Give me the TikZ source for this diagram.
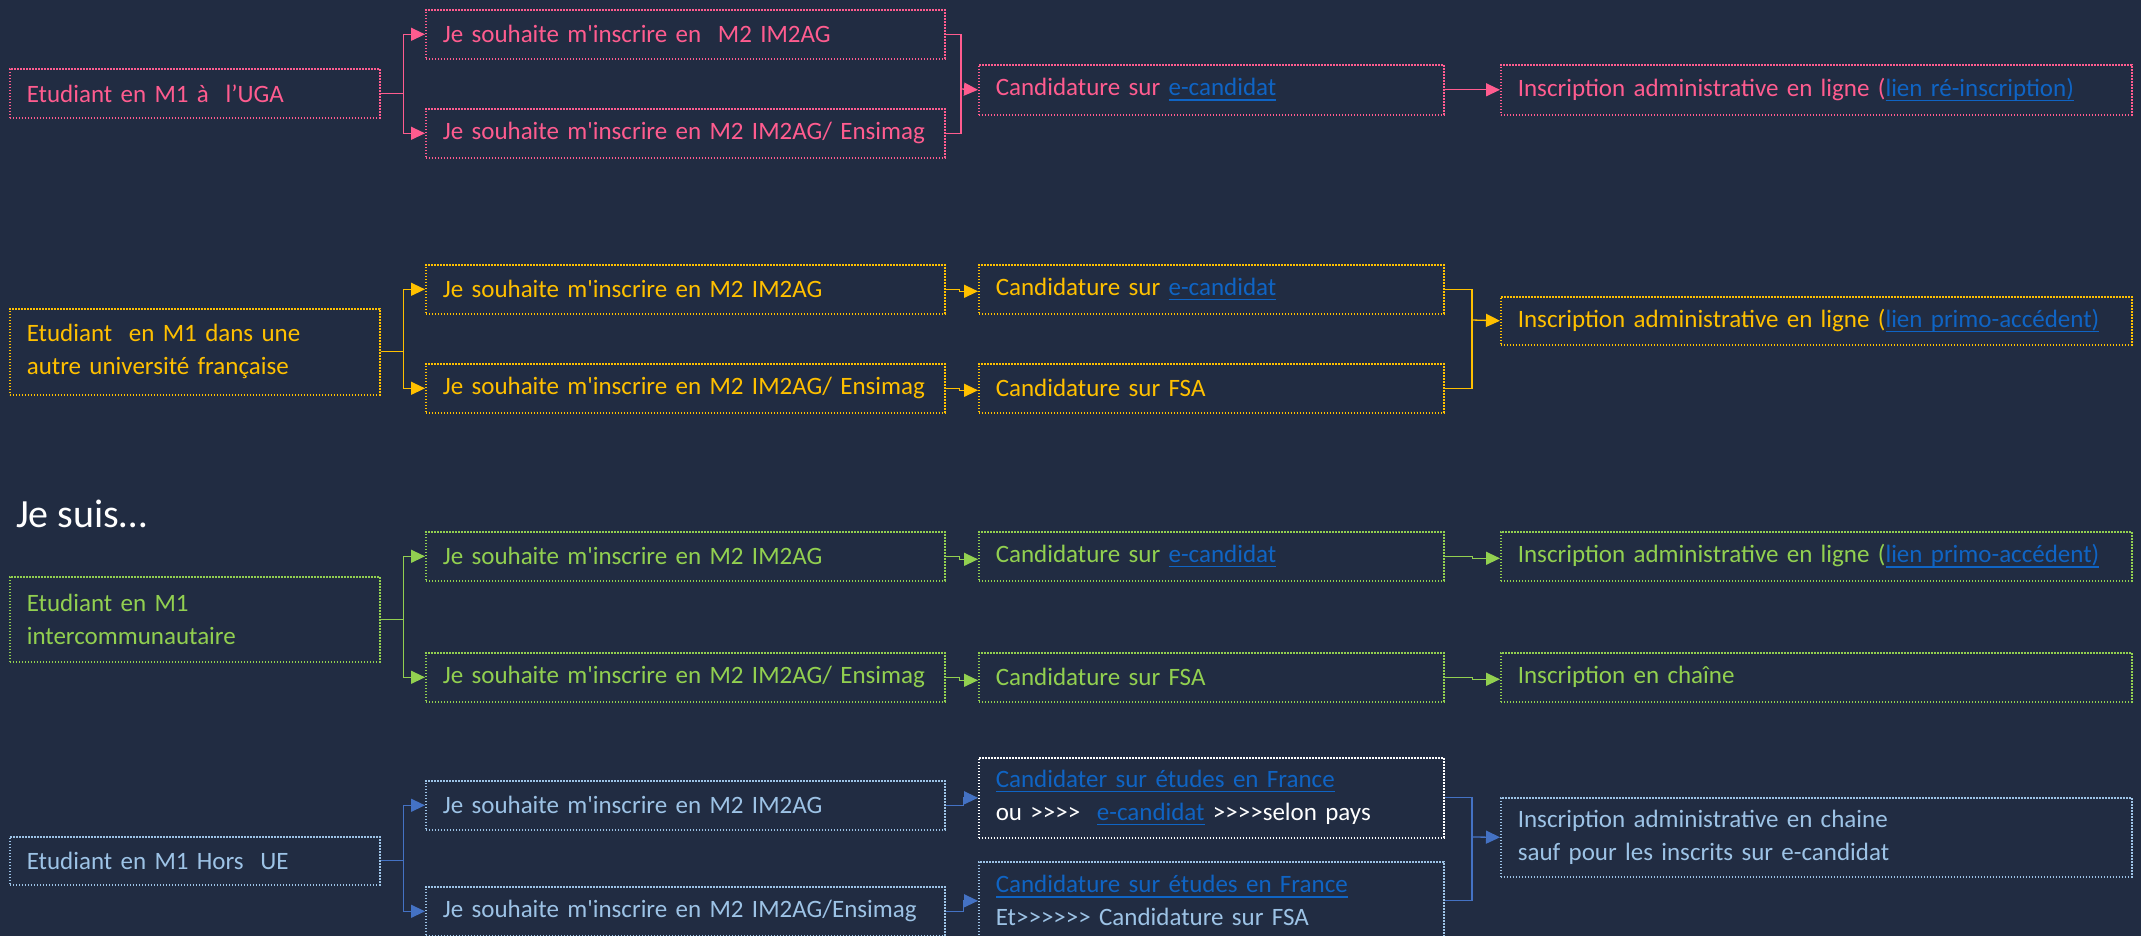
\documentclass[tikz,border=0pt]{standalone}
\usepackage{fontspec}
\setmainfont{Carlito}[Ligatures=TeXOff]
\usetikzlibrary{arrows.meta}
\definecolor{bg}{HTML}{212C42}
\definecolor{pinkc}{HTML}{FF5C8F}
\definecolor{goldc}{HTML}{FFC000}
\definecolor{grnc}{HTML}{92D050}
\definecolor{ltbc}{HTML}{9DC3E6}
\definecolor{midbc}{HTML}{4472C4}
\definecolor{lnkc}{HTML}{0F64C4}
\newcommand{\lk}[1]{{\color{lnkc}\setbox0\hbox{#1}\rlap{\rule[-5pt]{\wd0}{1.8pt}}\box0}}
\begin{document}
\begin{tikzpicture}[x=1pt,y=-1pt,
  box/.style={draw, line width=1.6pt, dash pattern=on 1.6pt off 1.4pt, anchor=north west,
    inner xsep=17pt, inner ysep=0pt, align=left, font=\fontsize{25}{33}\selectfont},
  wa/.style={minimum width=370pt, text width=336pt},
  wb/.style={minimum width=519pt, text width=485pt},
  wc/.style={minimum width=465pt, text width=431pt},
  wd/.style={minimum width=631pt, text width=597pt},
  ln/.style={line width=1.3pt},
  arr/.style={line width=1.3pt, -{Triangle[length=14pt,width=13pt]}}]
\fill[bg] (0,0) rectangle (2141,936);
\useasboundingbox (0,0) rectangle (2141,936);

% Row 1
\node[box, wa, pinkc, minimum height=49pt] (a1) at (9,68) {\mbox{Etudiant en M1 à\ \ l’UGA}};
\node[box, wb, pinkc, minimum height=49pt] (b1) at (425,9) {\mbox{Je souhaite m'inscrire en\ \ M2 IM2AG}};
\node[box, wb, pinkc, minimum height=49pt] (b2) at (425,108) {\mbox{Je souhaite m'inscrire en M2 IM2AG/ Ensimag}};
\node[box, wc, pinkc, minimum height=50pt] (c1) at (978,64) {\mbox{Candidature sur \lk{e-candidat}}};
\node[box, wd, pinkc, minimum height=50pt] (d1) at (1500,64) {\mbox{Inscription administrative en ligne (\lk{lien ré-inscription)}}};
\draw[arr, pinkc] (a1.east) -- ++(23,0) |- (b1.west);
\draw[arr, pinkc] (a1.east) -- ++(23,0) |- (b2.west);
\coordinate (m1) at (961,89);
\draw[ln, pinkc] (b1.east) -| (m1);
\draw[ln, pinkc] (b2.east) -| (m1);
\draw[arr, pinkc] (m1) -- (c1.west);
\draw[arr, pinkc] (c1.east) -- (d1.west);

% Row 2
\node[box, wa, goldc, minimum height=86pt] (a2) at (9,308) {\mbox{Etudiant\ \ en M1 dans une}\\\mbox{autre université française}};
\node[box, wb, goldc, minimum height=49pt] (b3) at (425,264) {\mbox{Je souhaite m'inscrire en M2 IM2AG}};
\node[box, wb, goldc, minimum height=49pt] (b4) at (425,363) {\mbox{Je souhaite m'inscrire en M2 IM2AG/ Ensimag}};
\node[box, wc, goldc, minimum height=49pt] (c3) at (978,264) {\mbox{Candidature sur \lk{e-candidat}}};
\node[box, wc, goldc, minimum height=49pt] (c4) at (978,363) {\mbox{Candidature sur FSA}};
\node[box, wd, goldc, minimum height=48pt] (d2) at (1500,296) {\mbox{Inscription administrative en ligne (\lk{lien primo-accédent)}}};
\draw[arr, goldc] (a2.east) -- ++(23,0) |- (b3.west);
\draw[arr, goldc] (a2.east) -- ++(23,0) |- (b4.west);
\draw[arr, goldc] (b3.east) -- ++(14,0) |- ([yshift=-2pt]c3.west);
\draw[arr, goldc] (b4.east) -- ++(14,0) |- ([yshift=-2pt]c4.west);
\coordinate (m2) at (1472,320);
\draw[ln, goldc] (c3.east) -| (m2);
\draw[ln, goldc] (c4.east) -| (m2);
\draw[arr, goldc] (m2) -- (d2.west);

% Title
\node[anchor=base west, inner sep=0pt, white, font=\fontsize{40}{48}\selectfont] (title) at (16,527) {Je suis…};

% Row 3
\node[box, wa, grnc, minimum height=85pt] (a3) at (9,576) {\mbox{Etudiant en M1}\\\mbox{intercommunautaire}};
\node[box, wb, grnc, minimum height=49pt] (b5) at (425,531) {\mbox{Je souhaite m'inscrire en M2 IM2AG}};
\node[box, wb, grnc, minimum height=49pt] (b6) at (425,652) {\mbox{Je souhaite m'inscrire en M2 IM2AG/ Ensimag}};
\node[box, wc, grnc, minimum height=49pt] (c5) at (978,531) {\mbox{Candidature sur \lk{e-candidat}}};
\node[box, wc, grnc, minimum height=49pt] (c6) at (978,652) {\mbox{Candidature sur FSA}};
\node[box, wd, grnc, minimum height=49pt] (d3) at (1500,531) {\mbox{Inscription administrative en ligne (\lk{lien primo-accédent)}}};
\node[box, wd, grnc, minimum height=49pt] (d4) at (1500,652) {\mbox{Inscription en chaîne}};
\draw[arr, grnc] (a3.east) -- ++(23,0) |- (b5.west);
\draw[arr, grnc] (a3.east) -- ++(23,0) |- (b6.west);
\draw[arr, grnc] (b5.east) -- ++(14,0) |- ([yshift=-3pt]c5.west);
\draw[arr, grnc] (b6.east) -- ++(14,0) |- ([yshift=-3pt]c6.west);
\draw[arr, grnc] (c5.east) -- ++(28,0) |- ([yshift=-2pt]d3.west);
\draw[arr, grnc] (c6.east) -- ++(28,0) |- ([yshift=-2pt]d4.west);

% Row 4
\node[box, wa, ltbc, minimum height=48pt] (a4) at (9,836) {\mbox{Etudiant en M1 Hors\ \ UE}};
\node[box, wb, ltbc, minimum height=49pt] (b7) at (425,780) {\mbox{Je souhaite m'inscrire en M2 IM2AG}};
\node[box, wb, ltbc, minimum height=49pt] (b8) at (425,886) {\mbox{Je souhaite m'inscrire en M2 IM2AG/Ensimag}};
\node[box, wc, draw=white, text=white, minimum height=80pt] (c7) at (978,757) {\mbox{\lk{Candidater sur études en France}}\\\mbox{ou >>>>\ \ \lk{e-candidat} >>>>selon pays}};
\node[box, wc, ltbc, minimum height=78pt] (c8) at (978,861) {\mbox{\lk{Candidature sur études en France}}\\\mbox{Et>>>>>> Candidature sur FSA}};
\node[box, wd, ltbc, minimum height=79pt] (d5) at (1500,797) {\mbox{Inscription administrative en chaine}\\\mbox{sauf pour les inscrits sur e-candidat}};
\draw[arr, midbc] (a4.east) -- ++(23,0) |- (b7.west);
\draw[arr, midbc] (a4.east) -- ++(23,0) |- (b8.west);
\draw[arr, midbc] (b7.east) -- ++(18,0) |- (c7.west);
\draw[arr, midbc] (b8.east) -- ++(18,0) |- (c8.west);
\coordinate (m4) at (1472,837);
\draw[ln, midbc] (c7.east) -| (m4);
\draw[ln, midbc] (c8.east) -| (m4);
\draw[arr, midbc] (m4) -- (d5.west);
\end{tikzpicture}
\end{document}
